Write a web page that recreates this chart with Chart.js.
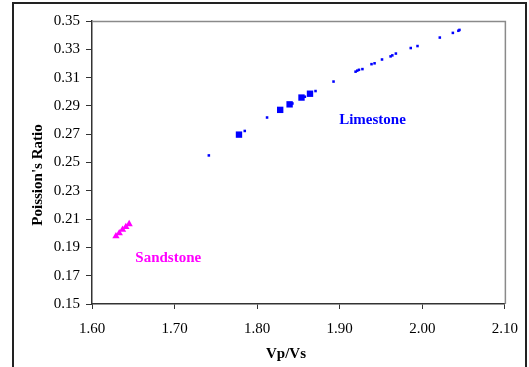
<!DOCTYPE html>
<html>
<head>
<meta charset="utf-8">
<script src="https://cdn.jsdelivr.net/npm/chart.js@4.4.1/dist/chart.umd.min.js"></script>
<style>
  html, body { margin: 0; padding: 0; background: #fff; }
  #wrap { position: relative; width: 529px; height: 367px; overflow: hidden; }
  #frame { position: absolute; left: 12px; top: 2px; width: 515px; height: 400px;
           border: 2px solid #222; border-bottom: none; box-sizing: border-box; }
  #chart { position: absolute; left: 0; top: 0; }
</style>
</head>
<body>
<div id="wrap">
  <div id="frame"></div>
  <canvas id="chart" width="529" height="367"></canvas>
</div>
<script>
/* Vp/Vs vs Poisson's ratio, limestone and sandstone samples */

var X_TICKS = [1.60, 1.70, 1.80, 1.90, 2.00, 2.10];
var Y_TICKS = [0.15, 0.17, 0.19, 0.21, 0.23, 0.25, 0.27, 0.29, 0.31, 0.33, 0.35];

// limestone, small markers
var LIME_DOT_X = [1.7415, 1.7850, 1.8120, 1.8427, 1.8578, 1.8707, 1.8925, 1.9192, 1.9212, 1.9233,
                  1.9275, 1.9385, 1.9422, 1.9512, 1.9616, 1.9637, 1.9680, 1.9860, 1.9942, 2.0212,
                  2.0370, 2.0437, 2.0450];
var LIME_DOT_Y = [0.2550, 0.2723, 0.2818, 0.2917, 0.2965, 0.3005, 0.3072, 0.3142, 0.3149, 0.3155,
                  0.3160, 0.3195, 0.3201, 0.3228, 0.3250, 0.3257, 0.3270, 0.3309, 0.3323, 0.3383,
                  0.3416, 0.3431, 0.3437];

// limestone, large squares
var LIME_SQ_X = [1.7780, 1.8279, 1.8393, 1.8537, 1.8640];
var LIME_SQ_Y = [0.2697, 0.2872, 0.2911, 0.2959, 0.2986];

// sandstone
var SAND_X = [1.629, 1.633, 1.637, 1.641, 1.645];
var SAND_Y = [0.1980, 0.2000, 0.2025, 0.2045, 0.2065];

var NOTES = ['Limestone', 'Sandstone'];
var NOTE_X = [1.9397, 1.6923];
var NOTE_Y = [0.2802, 0.1827];
var NOTE_COLORS = ['#0000ff', '#ff00ff'];

var X_TITLE = 'Vp/Vs';
var Y_TITLE = "Poission's Ratio";

var FONT = '"Liberation Serif", "Times New Roman", serif';

function pairs(xs, ys) {
  return xs.map(function (x, i) { return { x: x, y: ys[i] }; });
}

var plotFrame = {
  id: 'plotFrame',
  beforeDatasetsDraw: function (chart) {
    var a = chart.chartArea, ctx = chart.ctx;
    ctx.save();
    ctx.strokeStyle = '#8a8a8a';
    ctx.lineWidth = 1.5;
    ctx.beginPath();
    ctx.moveTo(a.left, a.top + 0.5);
    ctx.lineTo(a.right + 0.5, a.top + 0.5);
    ctx.lineTo(a.right + 0.5, a.bottom);
    ctx.stroke();
    ctx.restore();
  }
};

// annotations plus the axis titles (Excel puts them a bit off the plot centre)
var notes = {
  id: 'notes',
  afterDatasetsDraw: function (chart) {
    var ctx = chart.ctx, xs = chart.scales.x, ys = chart.scales.y;
    ctx.save();
    ctx.font = 'bold 15px ' + FONT;
    ctx.textAlign = 'center';
    ctx.textBaseline = 'middle';
    NOTES.forEach(function (t, i) {
      ctx.fillStyle = NOTE_COLORS[i];
      ctx.fillText(t, xs.getPixelForValue(NOTE_X[i]), ys.getPixelForValue(NOTE_Y[i]));
    });

    ctx.fillStyle = '#000';
    ctx.fillText(X_TITLE, 286, 354);
    ctx.translate(38, 175);
    ctx.rotate(-Math.PI / 2);
    ctx.fillText(Y_TITLE, 0, 0);
    ctx.restore();
  }
};

new Chart(document.getElementById('chart'), {
  type: 'scatter',
  data: {
    datasets: [
      {
        label: 'Limestone',
        data: pairs(LIME_DOT_X, LIME_DOT_Y),
        pointStyle: 'rect',
        pointRadius: 1.8,
        pointBackgroundColor: '#0000ff',
        pointBorderWidth: 0
      },
      {
        label: 'Limestone (sq)',
        data: pairs(LIME_SQ_X, LIME_SQ_Y),
        pointStyle: 'rect',
        pointRadius: 4.5,
        pointBackgroundColor: '#0000ff',
        pointBorderWidth: 0
      },
      {
        label: 'Sandstone',
        data: pairs(SAND_X, SAND_Y),
        pointStyle: 'triangle',
        pointRadius: 4.2,
        pointBackgroundColor: '#ff00ff',
        pointBorderWidth: 0
      }
    ]
  },
  options: {
    responsive: false,
    animation: false,
    devicePixelRatio: 1,
    layout: { padding: { left: 0, top: 21, right: 16, bottom: 0 } },
    plugins: { legend: { display: false }, tooltip: { enabled: false } },
    scales: {
      x: {
        type: 'linear',
        min: 1.60,
        max: 2.10,
        afterBuildTicks: function (s) { s.ticks = X_TICKS.map(function (v) { return { value: v }; }); },
        afterFit: function (s) { s.height = 63; },
        ticks: {
          color: '#000',
          padding: 11,
          maxRotation: 0,
          font: { family: FONT, size: 15 },
          callback: function (v) { return Number(v).toFixed(2); }
        },
        grid: { drawOnChartArea: false, tickLength: 5, tickColor: '#333' },
        border: { color: '#333', width: 1.5 },
        title: { display: false }
      },
      y: {
        type: 'linear',
        min: 0.15,
        max: 0.35,
        afterBuildTicks: function (s) { s.ticks = Y_TICKS.map(function (v) { return { value: v }; }); },
        afterFit: function (s) { s.width = 92; },
        ticks: {
          color: '#000',
          padding: 6,
          font: { family: FONT, size: 15 },
          callback: function (v) { return Number(v).toFixed(2); }
        },
        grid: { drawOnChartArea: false, tickLength: 6, tickColor: '#333' },
        border: { color: '#333', width: 1.5 },
        title: { display: false }
      }
    }
  },
  plugins: [plotFrame, notes]
});
</script>
</body>
</html>
